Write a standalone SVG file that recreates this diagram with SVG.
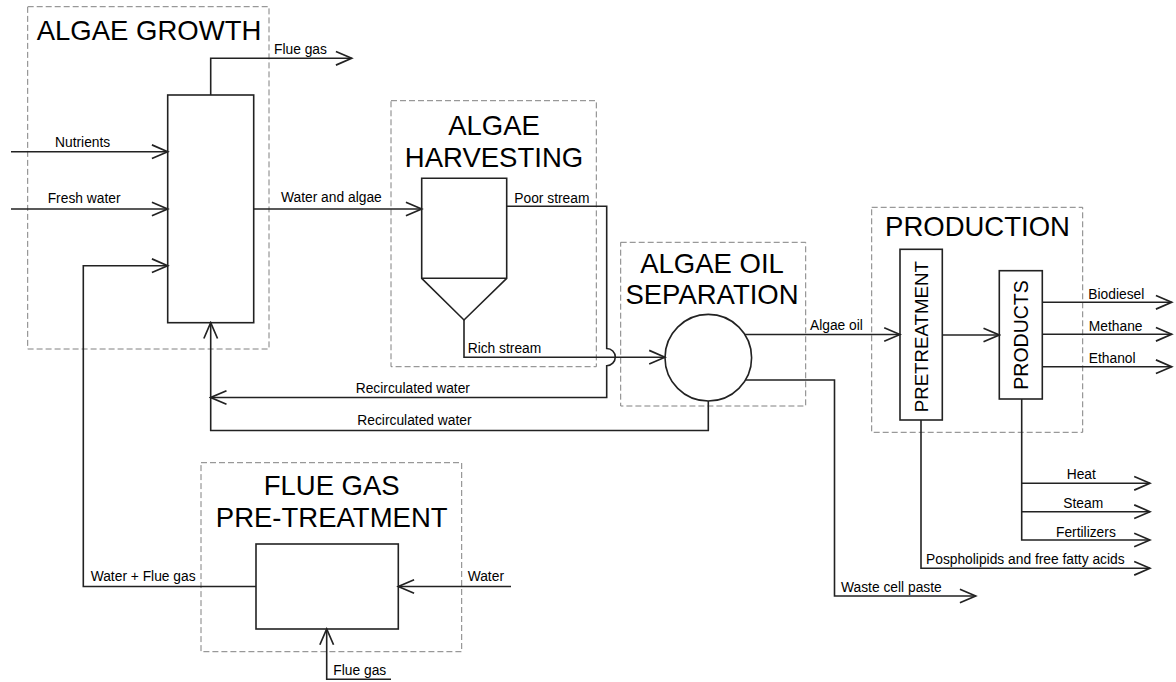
<svg xmlns="http://www.w3.org/2000/svg" width="1176" height="682" viewBox="0 0 1176 682">
<defs>
<style>
.zone{fill:none;stroke:#808080;stroke-width:1;stroke-dasharray:6 3}
.eq{fill:#fff;stroke:#222;stroke-width:1.6}
.ln{fill:none;stroke:#222;stroke-width:1.6}
.title{font-family:"Liberation Sans",Arial,sans-serif;font-size:27.5px;fill:#000;text-anchor:middle}
.lbl{font-family:"Liberation Sans",Arial,sans-serif;font-size:13.8px;fill:#000}
.vt{font-family:"Liberation Sans",Arial,sans-serif;font-size:19px;fill:#000;text-anchor:middle;dominant-baseline:central}
</style>
<marker id="arr" markerUnits="userSpaceOnUse" markerWidth="20" markerHeight="20" viewBox="-17 -9 19 18" refX="0" refY="0" orient="auto">
<path d="M-15,-6.5 L0,0 L-15,6.5" fill="none" stroke="#222" stroke-width="1.6"/>
</marker>
</defs>
<rect width="1176" height="682" fill="#fff"/>

<g id="algae-growth">
<rect class="zone" x="27.7" y="6.7" width="241.3" height="342.3"/>
<text class="title" x="149" y="40">ALGAE GROWTH</text>
<rect class="eq" x="167.7" y="95" width="86" height="227.7"/>
</g>

<g id="algae-harvesting">
<rect class="zone" x="391" y="100.7" width="205.3" height="266"/>
<text class="title" x="494" y="135">ALGAE</text>
<text class="title" x="494" y="166.7">HARVESTING</text>
<path class="eq" d="M421.7,178.3 H506.7 V278.3 L464,320 L421.7,278.3 Z"/>
<line class="ln" x1="421.7" y1="278.3" x2="506.7" y2="278.3"/>
</g>

<g id="algae-oil-separation">
<rect class="zone" x="620.7" y="242.3" width="185" height="163.7"/>
<text class="title" x="712" y="272.7">ALGAE OIL</text>
<text class="title" x="712" y="304">SEPARATION</text>
<circle class="eq" cx="708.3" cy="357.7" r="43.3"/>
</g>

<g id="production">
<rect class="zone" x="871.7" y="207.3" width="211" height="225"/>
<text class="title" x="977.5" y="235.7">PRODUCTION</text>
<g id="pretreatment">
<rect class="eq" x="900" y="249.3" width="42.3" height="170.7"/>
<text class="vt" transform="translate(921.2,336.7) rotate(-90)" style="font-size:18.7px">PRETREATMENT</text>
</g>
<g id="products">
<rect class="eq" x="999.3" y="270.7" width="43" height="128.3"/>
<text class="vt" transform="translate(1020.8,335) rotate(-90)" style="font-size:19.5px">PRODUCTS</text>
</g>
</g>

<g id="flue-gas-pretreatment">
<rect class="zone" x="201" y="462.7" width="260.7" height="189"/>
<text class="title" x="331.7" y="495">FLUE GAS</text>
<text class="title" x="331.7" y="527.3">PRE-TREATMENT</text>
<rect class="eq" x="256" y="544" width="142.3" height="85"/>
</g>

<g id="connectors">
<path class="ln" d="M210.7,95 V58.3 H351.7" marker-end="url(#arr)"/>
<path class="ln" d="M11,151.7 H167.7" marker-end="url(#arr)"/>
<path class="ln" d="M11,209 H167.7" marker-end="url(#arr)"/>
<path class="ln" d="M256,586.5 H83.3 V265.7 H167.7" marker-end="url(#arr)"/>
<path class="ln" d="M253.7,209 H421.7" marker-end="url(#arr)"/>
<path class="ln" d="M506.7,206.3 H606.7 V348.5 A8.6,8.6 0 0 1 606.7,365.7 V397.5 H210.7" marker-end="url(#arr)"/>
<path class="ln" d="M464,320 V357.2 H665" marker-end="url(#arr)"/>
<path class="ln" d="M708.3,401 V430.5 H210.7 V322.7" marker-end="url(#arr)"/>
<path class="ln" d="M744.9,334.5 H900" marker-end="url(#arr)"/>
<path class="ln" d="M745.4,380 H834.5 V596 H975.7" marker-end="url(#arr)"/>
<path class="ln" d="M942.3,335 H999.3" marker-end="url(#arr)"/>
<path class="ln" d="M1042.3,302.3 H1171.7" marker-end="url(#arr)"/>
<path class="ln" d="M1042.3,334.3 H1171.7" marker-end="url(#arr)"/>
<path class="ln" d="M1042.3,366.7 H1171.7" marker-end="url(#arr)"/>
<path class="ln" d="M1021.7,399 V540 H1150" marker-end="url(#arr)"/>
<path class="ln" d="M1021.7,483.3 H1150" marker-end="url(#arr)"/>
<path class="ln" d="M1021.7,511.7 H1150" marker-end="url(#arr)"/>
<path class="ln" d="M921,420 V568.3 H1150" marker-end="url(#arr)"/>
<path class="ln" d="M511,586.5 H398.3" marker-end="url(#arr)"/>
<path class="ln" d="M391,679.3 H326.7 V629" marker-end="url(#arr)"/>

<text class="lbl" x="274" y="54">Flue gas</text>
<text class="lbl" x="55" y="146.5">Nutrients</text>
<text class="lbl" x="47.7" y="202.5">Fresh water</text>
<text class="lbl" x="90.7" y="580.7">Water + Flue gas</text>
<text class="lbl" x="281" y="202">Water and algae</text>
<text class="lbl" x="514.3" y="203.3">Poor stream</text>
<text class="lbl" x="467.7" y="352.7">Rich stream</text>
<text class="lbl" x="355.7" y="392.7">Recirculated water</text>
<text class="lbl" x="357.3" y="425">Recirculated water</text>
<text class="lbl" x="810" y="330">Algae oil</text>
<text class="lbl" x="841" y="591.7">Waste cell paste</text>
<text class="lbl" x="1088.3" y="299">Biodiesel</text>
<text class="lbl" x="1088.8" y="330.5">Methane</text>
<text class="lbl" x="1088.8" y="362.7">Ethanol</text>
<text class="lbl" x="1066.7" y="479.3">Heat</text>
<text class="lbl" x="1063.3" y="508.3">Steam</text>
<text class="lbl" x="1056" y="536.7">Fertilizers</text>
<text class="lbl" x="926" y="564">Pospholipids and free fatty acids</text>
<text class="lbl" x="467.7" y="580.7">Water</text>
<text class="lbl" x="333.3" y="675">Flue gas</text>
</g>
</svg>
